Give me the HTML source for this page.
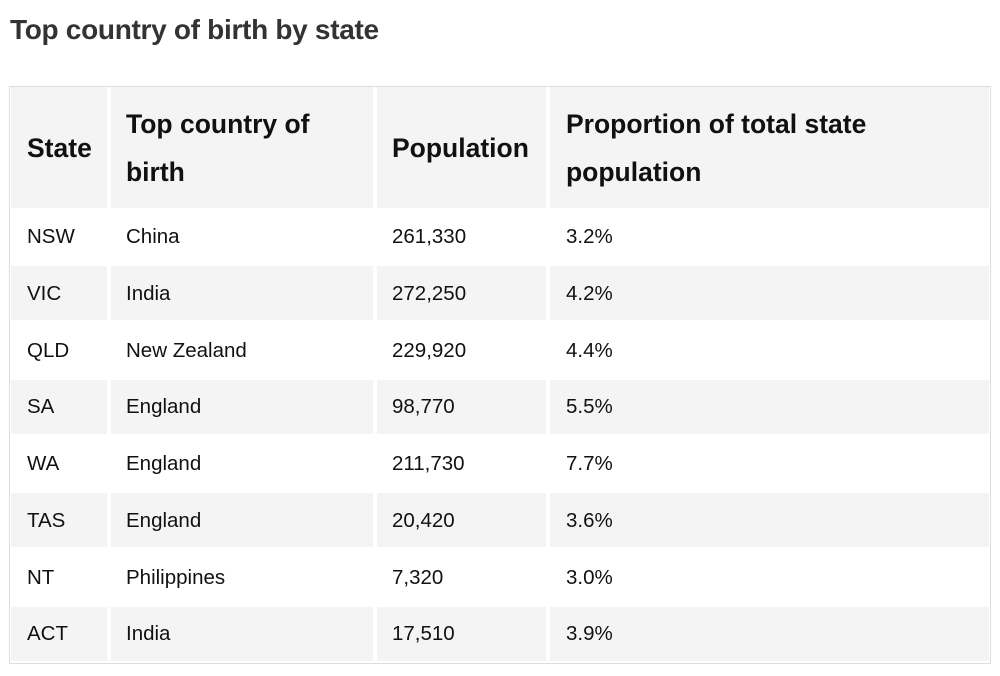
<!DOCTYPE html>
<html><head><style>
body{margin:0;width:1000px;height:676px;background:#fff;font-family:"Liberation Sans",Arial,sans-serif;color:#111;position:relative;overflow:hidden}
.t{position:absolute;left:10px;top:14px;font-size:28px;font-weight:bold;color:#333;letter-spacing:-0.3px}
.box{position:absolute;left:9px;top:86px;width:980px;height:576px;border:1px solid #ddd}
.c{position:absolute;background:#f4f4f4}
.x{position:absolute;white-space:nowrap}
.h{font-size:26.5px;font-weight:bold;line-height:48px}
.b{font-size:20.5px;line-height:22px}
</style></head><body>
<div class="t">Top country of birth by state</div>
<div class="box"></div>
<div id="g"></div>
<script>
var cols=[[11,107],[111,373],[377,546],[550,989]],tx=[27,126,392,566];
var h='';
cols.forEach(function(c){h+='<div class="c" style="left:'+c[0]+'px;width:'+(c[1]-c[0])+'px;top:87px;height:121px"></div>';});
var rows=[["NSW","China","261,330","3.2%"],["VIC","India","272,250","4.2%"],["QLD","New Zealand","229,920","4.4%"],["SA","England","98,770","5.5%"],["WA","England","211,730","7.7%"],["TAS","England","20,420","3.6%"],["NT","Philippines","7,320","3.0%"],["ACT","India","17,510","3.9%"]];
rows.forEach(function(r,i){var top=208+56.75*i;
 if(i%2==1)cols.forEach(function(c){h+='<div class="c" style="left:'+c[0]+'px;width:'+(c[1]-c[0])+'px;top:'+(top+1.5)+'px;height:54px"></div>';});
 r.forEach(function(v,j){h+='<div class="x b" style="left:'+tx[j]+'px;top:'+(top+18)+'px">'+v+'</div>';});
});
h+='<div class="x h" style="left:27px;top:124px">State</div>';
h+='<div class="x h" style="left:126px;top:100px">Top country of<br>birth</div>';
h+='<div class="x h" style="left:392px;top:124px">Population</div>';
h+='<div class="x h" style="left:566px;top:100px">Proportion of total state<br>population</div>';
document.getElementById('g').innerHTML=h;
</script>
</body></html>
